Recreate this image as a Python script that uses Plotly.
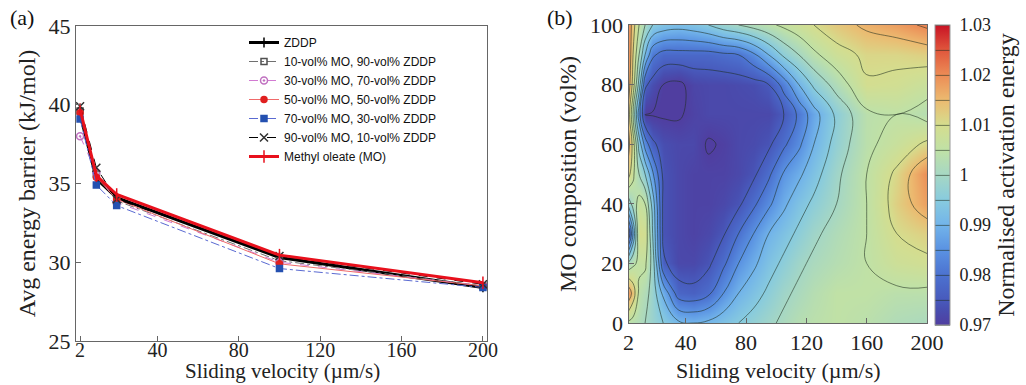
import plotly.graph_objects as go

W, H = 1026, 385

# ---------------- Panel (a) data ----------------
velocity = [2, 10, 20, 100, 200]
series_names = [
    "ZDDP",
    "10-vol% MO, 90-vol% ZDDP",
    "30-vol% MO, 70-vol% ZDDP",
    "50-vol% MO, 50-vol% ZDDP",
    "70-vol% MO, 30-vol% ZDDP",
    "90-vol% MO, 10-vol% ZDDP",
    "Methyl oleate (MO)",
]
zddp = [39.4, 35.3, 34.1, 30.3, 28.4]
mo10 = [39.6, 35.6, 33.9, 30.1, 28.5]
mo30 = [38.0, 35.7, 33.8, 30.0, 28.5]
mo50 = [39.5, 35.4, 34.0, 29.9, 28.5]
mo70 = [39.1, 34.9, 33.6, 29.6, 28.4]
mo90 = [39.9, 36.0, 34.0, 30.4, 28.6]
mo100 = [39.7, 35.5, 34.3, 30.45, 28.7]

xticks_a = [2, 40, 80, 120, 160, 200]
yticks_a = [25, 30, 35, 40, 45]

# ---------------- Panel (b) data ----------------
grid_x = [2, 5, 9, 13, 18, 25, 35, 45, 55, 65, 75, 85, 95, 105, 115, 125, 140, 160, 180, 200]
grid_y = [0, 10, 20, 30, 40, 50, 60, 70, 80, 90, 100]
row_y0 = [1.004, 1.003, 1.002, 1.000, 0.998, 0.995, 0.991, 0.990, 0.991, 0.993, 0.995, 0.997, 0.999, 1.001, 1.003, 1.004, 1.005, 1.004, 1.002, 1.001]
row_y10 = [1.019, 1.013, 1.004, 1.002, 0.998, 0.989, 0.9775, 0.9765, 0.979, 0.985, 0.990, 0.993, 0.996, 0.999, 1.001, 1.003, 1.005, 1.005, 1.004, 1.004]
row_y20 = [1.001, 1.004, 1.006, 1.006, 0.998, 0.976, 0.972, 0.972, 0.974, 0.979, 0.985, 0.989, 0.993, 0.996, 0.999, 1.001, 1.003, 1.005, 1.008, 1.009]
row_y30 = [0.975, 0.990, 1.010, 1.009, 0.995, 0.974, 0.972, 0.971, 0.972, 0.9745, 0.980, 0.985, 0.990, 0.993, 0.996, 0.999, 1.002, 1.005, 1.010, 1.012]
row_y40 = [0.997, 1.002, 1.007, 1.005, 0.993, 0.974, 0.972, 0.971, 0.971, 0.972, 0.974, 0.979, 0.984, 0.989, 0.993, 0.996, 1.000, 1.005, 1.012, 1.018]
row_y50 = [1.012, 1.006, 1.000, 0.995, 0.986, 0.974, 0.972, 0.971, 0.971, 0.971, 0.972, 0.974, 0.979, 0.9855, 0.989, 0.993, 0.999, 1.005, 1.011, 1.020]
row_y60 = [1.017, 1.008, 0.993, 0.983, 0.976, 0.973, 0.972, 0.972, 0.9695, 0.9705, 0.972, 0.9725, 0.974, 0.979, 0.984, 0.990, 0.997, 1.004, 1.007, 1.011]
row_y70 = [1.013, 1.000, 0.982, 0.9698, 0.9697, 0.9695, 0.9695, 0.971, 0.972, 0.972, 0.972, 0.972, 0.972, 0.975, 0.981, 0.988, 0.996, 1.004, 1.005, 1.003]
row_y80 = [1.018, 1.008, 0.993, 0.976, 0.973, 0.970, 0.969, 0.9715, 0.972, 0.972, 0.9725, 0.973, 0.975, 0.982, 0.990, 0.996, 1.002, 1.0095, 1.009, 1.007]
row_y90 = [1.020, 1.010, 1.000, 0.990, 0.981, 0.978, 0.978, 0.978, 0.978, 0.979, 0.980, 0.984, 0.990, 0.996, 1.000, 1.004, 1.008, 1.011, 1.011, 1.012]
row_y100 = [1.020, 1.012, 1.005, 1.000, 0.995, 0.993, 0.992, 0.993, 0.995, 0.998, 1.000, 1.002, 1.004, 1.006, 1.008, 1.010, 1.013, 1.016, 1.018, 1.021]
energy_grid = [row_y0, row_y10, row_y20, row_y30, row_y40, row_y50,
               row_y60, row_y70, row_y80, row_y90, row_y100]

xticks_b = [2, 40, 80, 120, 160, 200]
yticks_b = [0, 20, 40, 60, 80, 100]
cbar_ticks = [0.97, 0.98, 0.99, 1.0, 1.01, 1.02, 1.03]
cbar_labels = ["0.97", "0.98", "0.99", "1", "1.01", "1.02", "1.03"]


def px_x(p):
    return p / W


def px_y(p):
    return 1 - p / H


SERIF = "Liberation Serif"
SANS = "Liberation Sans"

fig = go.Figure()

styles = [
    dict(color="#000000", width=3, dash="solid", symbol="line-ns-open", msize=7, mcolor="#000000"),
    dict(color="#707070", width=1, dash="dashdot", symbol="square-open", msize=6, mcolor="#505050"),
    dict(color="#d27ad2", width=1, dash="dash", symbol="circle-open-dot", msize=7, mcolor="#c070c0"),
    dict(color="#f06a6a", width=1, dash="solid", symbol="circle", msize=6, mcolor="#e02020"),
    dict(color="#5a6ad2", width=1, dash="dashdot", symbol="square", msize=6, mcolor="#2450b0"),
    dict(color="#000000", width=1, dash="dash", symbol="x-thin-open", msize=8, mcolor="#303030"),
    dict(color="#e8101c", width=3, dash="solid", symbol="line-ns-open", msize=9, mcolor="#e8101c"),
]
values = [zddp, mo10, mo30, mo50, mo70, mo90, mo100]
for name, vals, st in zip(series_names, values, styles):
    fig.add_trace(go.Scatter(
        x=velocity, y=vals, name=name, mode="lines+markers",
        line=dict(color=st["color"], width=st["width"], dash=st["dash"]),
        marker=dict(symbol=st["symbol"], size=st["msize"], color=st["mcolor"],
                    line=dict(color=st["mcolor"], width=1.5)),
        xaxis="x", yaxis="y",
    ))

colorscale = [
    [0.0, "rgb(80,62,160)"],
    [0.05, "rgb(72,78,176)"],
    [0.0833, "rgb(72,90,188)"],
    [0.1667, "rgb(76,114,208)"],
    [0.25, "rgb(90,146,226)"],
    [0.3333, "rgb(114,180,234)"],
    [0.4167, "rgb(136,203,222)"],
    [0.5, "rgb(166,215,196)"],
    [0.5833, "rgb(192,225,166)"],
    [0.6667, "rgb(213,221,142)"],
    [0.75, "rgb(236,186,112)"],
    [0.8333, "rgb(236,140,86)"],
    [0.9167, "rgb(224,86,60)"],
    [1.0, "rgb(200,18,36)"],
]

fig.add_trace(go.Contour(
    x=grid_x, y=grid_y, z=energy_grid,
    xaxis="x2", yaxis="y2",
    colorscale=colorscale, zmin=0.97, zmax=1.03,
    contours=dict(start=0.97, end=1.03, size=0.005, coloring="heatmap"),
    line=dict(color="rgba(30,45,30,0.7)", width=0.8, smoothing=1.2),
    showlegend=False,
    colorbar=dict(
        x=px_x(935), xanchor="left", y=px_y(175), yanchor="middle",
        len=300 / H, lenmode="fraction", thickness=15, xpad=0, ypad=0,
        outlinecolor="#999999", outlinewidth=1,
        tickvals=cbar_ticks, ticktext=cbar_labels,
        ticks="outside", ticklen=6, tickcolor="rgba(0,0,0,0)",
        tickfont=dict(family=SERIF, size=18, color="#222"),
        title=dict(text="Normalised activation energy", side="right",
                   font=dict(family=SERIF, size=24, color="#222")),
    ),
))

axis_common = dict(showline=True, linecolor="#666666", linewidth=1, mirror=True,
                   ticks="inside", ticklen=5, tickcolor="#666666",
                   showgrid=False, zeroline=False)

fig.update_layout(
    width=W, height=H,
    margin=dict(l=0, r=0, t=0, b=0, autoexpand=False),
    paper_bgcolor="white", plot_bgcolor="white",
    xaxis=dict(domain=[px_x(76), px_x(487)], range=[0, 202], tickvals=xticks_a,
               tickfont=dict(family=SERIF, size=20, color="#222"),
               ticklabelstandoff=-9,
               anchor="y", **axis_common),
    yaxis=dict(domain=[px_y(341), px_y(26)], range=[25, 45], tickvals=yticks_a,
               tickfont=dict(family=SERIF, size=22, color="#222"),
               title=dict(text="Avg energy barrier (kJ/mol)", font=dict(family=SERIF, size=24, color="#222"), standoff=6),
               anchor="x", **axis_common),
    xaxis2=dict(domain=[px_x(628.5), px_x(927)], range=[2, 200], tickvals=xticks_b,
                tickfont=dict(family=SERIF, size=22, color="#222"),
                anchor="y2", **axis_common),
    yaxis2=dict(domain=[px_y(323), px_y(25)], range=[0, 100], tickvals=yticks_b,
                tickfont=dict(family=SERIF, size=22, color="#222"),
                title=dict(text="MO composition (vol%)", font=dict(family=SERIF, size=24, color="#222"), standoff=6),
                anchor="x2", **axis_common),
    legend=dict(x=px_x(244), y=px_y(28), xanchor="left", yanchor="top",
                bgcolor="rgba(255,255,255,0)", borderwidth=0,
                font=dict(family=SANS, size=12, color="#111"),
                itemwidth=30, tracegroupgap=0),
    annotations=[
        dict(text="(a)", x=px_x(22), y=px_y(17), xref="paper", yref="paper",
             xanchor="center", yanchor="middle",
             showarrow=False, font=dict(family=SERIF, size=22, color="#111")),
        dict(text="(b)", x=px_x(560), y=px_y(17), xref="paper", yref="paper",
             xanchor="center", yanchor="middle",
             showarrow=False, font=dict(family=SERIF, size=22, color="#111")),
        dict(text="Sliding velocity (µm/s)", x=px_x(282), y=0, xref="paper", yref="paper",
             xanchor="center", yanchor="bottom",
             showarrow=False, font=dict(family=SERIF, size=21, color="#222")),
        dict(text="Sliding velocity (µm/s)", x=px_x(778), y=0, xref="paper", yref="paper",
             xanchor="center", yanchor="bottom",
             showarrow=False, font=dict(family=SERIF, size=22, color="#222")),
    ],
)

fig.write_html("out.html")
